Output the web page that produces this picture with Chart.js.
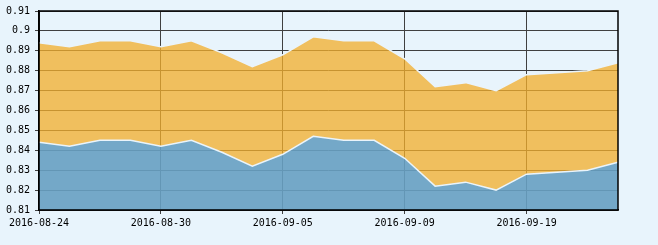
<!DOCTYPE html>
<html>
<head>
<meta charset="utf-8">
<script src="https://cdn.jsdelivr.net/npm/chart.js@4"></script>
<style>
  html, body { margin: 0; padding: 0; background: #e8f4fc; }
  #wrap { width: 658px; height: 245px; }
</style>
</head>
<body>
<div id="wrap"><canvas id="areaChart" width="658" height="245"></canvas></div>
<script>
// Trading days shown on the x axis (every 4th one is labelled)
const dates = [
    '2016-08-24', '2016-08-25', '2016-08-26', '2016-08-29', '2016-08-30',
    '2016-08-31', '2016-09-01', '2016-09-02', '2016-09-05', '2016-09-06',
    '2016-09-07', '2016-09-08', '2016-09-09', '2016-09-12', '2016-09-13',
    '2016-09-14', '2016-09-19', '2016-09-20', '2016-09-21', '2016-09-22'
];

// Upper (orange) and lower (blue) series
const upperValues = [
    0.894, 0.892, 0.895, 0.895, 0.892, 0.895, 0.889, 0.882, 0.888, 0.897,
    0.895, 0.895, 0.886, 0.872, 0.874, 0.870, 0.878, 0.879, 0.880, 0.884
];
const lowerValues = [
    0.844, 0.842, 0.845, 0.845, 0.842, 0.845, 0.839, 0.832, 0.838, 0.847,
    0.845, 0.845, 0.836, 0.822, 0.824, 0.820, 0.828, 0.829, 0.830, 0.834
];

const yMin = 0.81, yMax = 0.91, yStep = 0.01;
const labelEvery = 4;

Chart.defaults.font.family = "'DejaVu Sans Mono', monospace";
Chart.defaults.font.size = 10;
Chart.defaults.color = '#000';

// Draw the black frame around the plot area
const frame = {
    id: 'frame',
    afterDraw(chart) {
        const { ctx, chartArea: a } = chart;
        ctx.save();
        ctx.strokeStyle = '#000';
        ctx.lineWidth = 1.5;
        ctx.strokeRect(a.left, a.top, a.right - a.left, a.bottom - a.top);
        ctx.restore();
    }
};

const ctx = document.getElementById('areaChart').getContext('2d');
const chart = new Chart(ctx, {
    type: 'line',
    data: {
        labels: dates,
        datasets: [
            {
                label: 'lower',
                data: lowerValues,
                borderColor: '#eaf4fb',
                backgroundColor: 'rgba(103, 160, 194, 0.9)',
                borderWidth: 1.5,
                pointRadius: 0,
                tension: 0,
                fill: 'origin'
            },
            {
                label: 'upper',
                data: upperValues,
                borderColor: '#eaf4fb',
                backgroundColor: 'rgba(242, 174, 44, 0.76)',
                borderWidth: 1.5,
                pointRadius: 0,
                tension: 0,
                fill: '-1'
            }
        ]
    },
    options: {
        responsive: false,
        animation: false,
        layout: { padding: { left: 0, right: 40, top: 10, bottom: 0 } },
        plugins: {
            legend: { display: false },
            tooltip: { enabled: false }
        },
        scales: {
            x: {
                offset: false,
                grid: {
                    color: (c) => (c.index % labelEvery === 0 ? '#404040' : 'rgba(0,0,0,0)'),
                    lineWidth: 1,
                    tickLength: 4
                },
                border: { color: '#000', width: 1.5 },
                ticks: {
                    autoSkip: false,
                    maxRotation: 0,
                    padding: 3,
                    callback: (v, i) => (i % labelEvery === 0 ? dates[i] : '')
                },
                afterFit: (s) => { s.height = 35; }
            },
            y: {
                min: yMin,
                max: yMax,
                grid: { color: '#404040', lineWidth: 1, tickLength: 4 },
                border: { color: '#000', width: 1.5 },
                ticks: {
                    stepSize: yStep,
                    padding: 5,
                    callback: (v) => String(Math.round(v * 100) / 100)
                },
                afterFit: (s) => { s.width = 39; }
            }
        }
    },
    plugins: [frame]
});
</script>
</body>
</html>
